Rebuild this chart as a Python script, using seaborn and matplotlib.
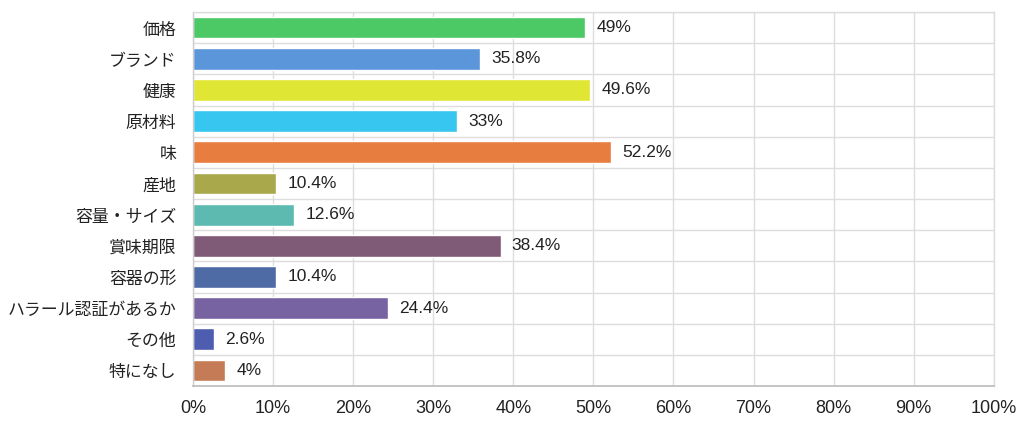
import numpy as np
import pandas as pd
import matplotlib
matplotlib.use("Agg")
import matplotlib.pyplot as plt
import seaborn as sns
from matplotlib.ticker import FixedLocator

categories = ["価格", "ブランド", "健康", "原材料", "味", "産地", "容量・サイズ",
              "賞味期限", "容器の形", "ハラール認証があるか", "その他", "特になし"]
values = [49, 35.8, 49.6, 33, 52.2, 10.4, 12.6, 38.4, 10.4, 24.4, 2.6, 4]
bar_colors = ["#4cc865", "#5b95da", "#e0e634", "#37c6ef", "#e77d3f", "#a9a84b",
              "#5cbab0", "#7f5b78", "#4f6ba6", "#7863a2", "#4f5db0", "#c57b55"]
xticks = [0, 10, 20, 30, 40, 50, 60, 70, 80, 90, 100]

sns.set_theme(style="white")
plt.rcParams['font.family'] = ['Noto Sans CJK JP', 'DejaVu Sans']
num_font = ['Liberation Sans', 'DejaVu Sans']

df = pd.DataFrame({"cat": categories, "val": values})

fig = plt.figure(figsize=(10.24, 4.28), dpi=100)
ax = fig.add_axes([0.1885, 0.098, 0.782, 0.874])
sns.barplot(data=df, x="val", y="cat", hue="cat", palette=bar_colors,
            legend=False, width=0.7, saturation=1, ax=ax)

ax.set_xlim(0, 100)
ax.set_ylim(len(categories) - 0.5, -0.5)
ax.set_xlabel("")
ax.set_ylabel("")
ax.set_xticks(xticks)
ax.set_xticklabels([f"{t}%" for t in xticks], fontsize=13, color="#222222", family=num_font)
ax.tick_params(axis="y", which="major", length=0, labelsize=12.2, labelcolor="#222222", pad=12)
ax.tick_params(axis="x", which="major", length=6, color="#dddddd", width=1, pad=4)
ax.yaxis.set_minor_locator(FixedLocator(np.arange(-0.5, len(categories), 1)))
ax.tick_params(axis="y", which="minor", length=8, color="#dddddd", width=1)
ax.grid(True, axis="x", which="major", color="#dddddd", linewidth=1)
ax.grid(True, axis="y", which="minor", color="#dddddd", linewidth=1)
ax.set_axisbelow(True)

for s in ["top", "right"]:
    ax.spines[s].set_color("#dddddd")
    ax.spines[s].set_linewidth(1)
ax.spines["left"].set_color("#cccccc")
ax.spines["bottom"].set_color("#bbbbbb")
ax.spines["left"].set_linewidth(1)
ax.spines["bottom"].set_linewidth(1.2)

for i, v in enumerate(values):
    ax.text(v + 1.4, i, f"{v:g}%", va="center", ha="left", fontsize=12.5,
            color="#222222", family=num_font)

fig.savefig("out.png", dpi=100)
